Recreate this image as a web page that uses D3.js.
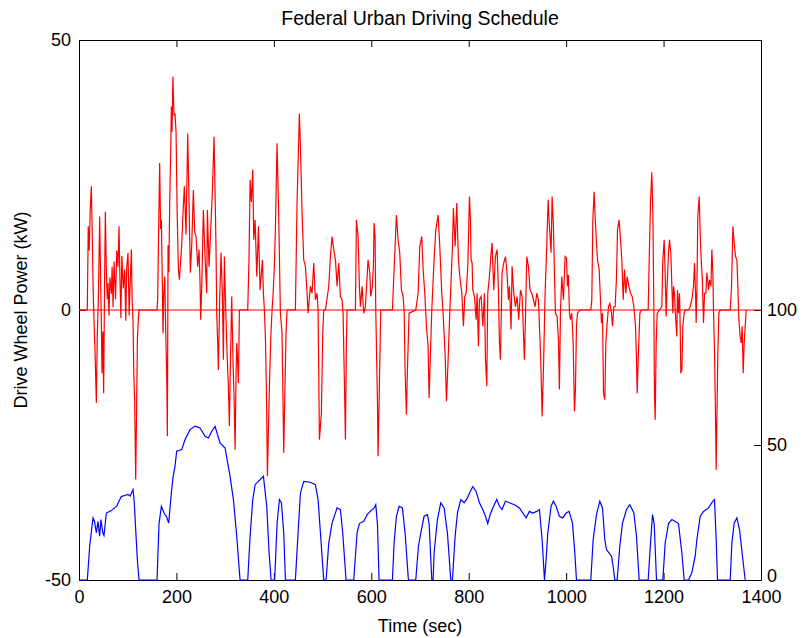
<!DOCTYPE html>
<html>
<head>
<meta charset="utf-8">
<script src="https://cdn.jsdelivr.net/npm/d3@7"></script>
<style>
body { margin: 0; background: #fff; }
text { font-family: "Liberation Sans", Arial, sans-serif; }
</style>
</head>
<body>
<svg id="chart" width="803" height="638"></svg>
<script>
// drive wheel power, [time (s), kW]
const powerData = [
  [0,0],[17,0],[19,15.5],[21,11],[23,18.5],[25.3,22.9],[27,15],[29,4],[30.8,-1.8],[33,-8],[35.6,-17.2],[37.5,-5],[40,3],
  [42.4,17.3],[44,8],[46,-3],[47.2,-11.7],[49,-4],[50.6,-15.4],[52.5,5],[54.1,18.2],[56,8],[58,2],[59.6,5],[61.5,-1],
  [63.5,6],[66.4,3],[68,8],[70,0.5],[72,9],[75,2],[77.5,11],[80,8],[82.1,15.5],[84,6],[86,-1.5],[88,10],[91,4],[93.8,7.5],
  [96,-2],[98,8],[100.6,10.6],[103,-1],[105,5],[107.5,11.2],[109,2],[110.9,-2],[112.5,-12],[114.3,-17],[116.4,-31.4],
  [118,-20],[120,-5],[123,0],
  [160,0],[161.5,2],[163.5,15],[165.6,27.2],[167.5,15],[169.1,16.7],[171,5],[172.5,-4.3],[174,3],[176,6.2],[178,-4],
  [179.4,-9.2],[180.5,-15],[181.4,-23.4],[182.8,12],[184.5,7],[186.2,20],[188,28],[189.6,37.7],[191,33],[192.8,43.2],
  [195,36],[197.1,36.4],[199.2,33],[201.5,18],[204,7.5],[206.1,5.6],[208.5,9],[210.8,12],[213.5,18],[216.3,22.9],
  [219.7,14],[223.2,32.7],[225.9,20],[228.6,6.9],[231.4,12],[234.8,22.2],[237.5,14.5],[240.3,13.6],[243.7,8],[246.4,11.2],
  [248.5,5],[249.8,-1.8],[251.9,4],[255.3,18.5],[258.7,10],[262.2,3.1],[263.5,18.5],[266.9,8],[270.4,15],[273.8,22],
  [277.2,32.1],[279.3,22],[281.3,11.2],[282.7,-0.6],[284.7,-6],[286.1,-11.1],[288.8,2],[291.6,10.6],[294.3,3],[296.4,-9.2],
  [298.4,9.9],[301.2,0],[303.9,-8],[306.6,-14],[308.7,-21.5],[310.8,-10],[313.5,2.5],[316.3,-10],[318.3,-16],[320.4,-25.9],
  [322.4,-12],[323.8,-6.1],[325.9,-10],[327.2,-13.5],[329.3,0],[346.4,0],[349.1,10],[351.2,24.1],[353.9,20],[356.7,26],
  [358.7,13],[361.5,16.7],[364.9,6.2],[368.4,15.5],[371.7,3.7],[373.8,6],[376.6,9.3],[378.6,3],[380.6,0],[382.7,-5.5],
  [384.8,-15],[386.8,-30.8],[388.9,-22],[390.9,-14.1],[393.7,-5],[396.3,0],[398.5,3],[401,8],[403.1,14.8],[406.6,30.9],
  [410,17.3],[413.4,-0.6],[416.8,-4.3],[420.3,-26.5],[422.3,-16.6],[425,-4.3],[427.1,0],[444.2,0],[447.6,19.8],[452.4,36.4],
  [454.5,30.3],[457.9,18],[461.3,9.3],[464.8,8.1],[468.2,3.1],[470.2,-0.6],[475,4.4],[478.4,3.1],[481.9,8.7],[485.3,1.9],
  [488.7,3.1],[490.8,0],[493.5,-24],[497.6,-19.1],[500.3,-4.3],[502.4,0],[505.8,0],[512.7,4.4],[516.1,9.9],[519.5,13.6],
  [522.9,11.2],[526.4,9.3],[529.8,4.4],[533.2,8.7],[536.6,2.5],[540,1.9],[542.1,-0.6],[545.5,-16.6],[546.9,-24],[548.9,-6.1],
  [550.3,0],[567.4,0],[569.5,16.7],[572.9,13.6],[575.6,4.4],[577.7,0.6],[581.1,4.4],[584.5,-0.6],[587.9,0.6],[593.4,9.3],
  [596.9,6.9],[598.9,2.5],[602.3,4.4],[604.4,8.1],[605.7,16.1],[607.8,13.6],[609.2,0],[612.6,-16.6],[613.9,-27.1],[616,-17.2],
  [619.4,0],[643.4,0],[646.8,7.5],[651.6,17.6],[655,13],[658.4,10.6],[661.9,3.7],[665.3,2.5],[667.4,0],[669.4,-11.1],
  [672.1,-19.4],[674.2,-11.1],[677.6,-0.6],[691.3,0],[696.1,3.1],[699.5,11.8],[703.6,13.6],[706.4,7.5],[709.8,3.1],[713.2,-3],
  [716.6,-6.7],[718.7,-16.3],[722.1,-6.1],[724.2,0],[728.9,9.3],[732.4,14.8],[737.2,17.6],[740.6,11.8],[744.7,3.1],[747.4,-0.6],
  [751.5,-8],[754.3,-16.9],[757.7,-9.2],[761.1,-0.6],[766.6,11.8],[768.6,18.9],[772.1,11.8],[775.5,19.8],[778.9,9.3],[781.7,6.2],
  [785.8,3.1],[789.2,-3],[791.9,2.5],[794.7,3.1],[798.1,8.1],[801.5,21],[803.6,16.7],[804.9,9.3],[807,8.7],[808.4,3.7],
  [811.8,2.5],[815.2,-1.8],[817.2,3.1],[820,-6.7],[822,1.9],[825.5,2.5],[828.9,-3],[832.3,3.1],[834.4,-9.2],[837.1,-14.1],
  [839.1,3.1],[842.5,6.2],[846,10.6],[848,12.4],[851.4,3.7],[854.8,9.9],[858.3,11.2],[861,3.7],[863.1,-6.1],[865.1,-9.2],
  [868.5,6.9],[871.9,8.7],[875.4,9.9],[878.1,7.5],[881.5,1.9],[883.6,4.4],[887,-3.6],[889,8.1],[892.5,3.1],[895.9,0.6],
  [899.3,2.5],[902.7,-1.8],[906.2,3.7],[909.6,2.5],[912.3,-4.3],[914.4,-9.2],[916.4,-1.8],[919.2,9.9],[922.6,8.1],[926,3.7],
  [929.4,3.1],[932.9,1.9],[936.3,0.6],[939.7,3.1],[943.1,1.9],[946.6,-6.1],[948.6,-11.7],[950.7,-19.7],[953.4,-11.1],[956.8,3.1],
  [960.2,11.8],[963,20.4],[965.7,15.5],[969.1,10.6],[971.2,21],[973.9,15.5],[976,6.9],[978,-0.6],[981.4,-1.2],[984.2,-5.5],
  [986.2,-14.7],[988.3,-0.6],[991,6.2],[994.5,1.9],[997.9,9.9],[1000.7,9.6],[1002.7,4.4],[1004.7,6.5],[1006.8,-0.6],[1008.9,-1.8],
  [1011.6,-0.6],[1014.4,-6.1],[1017.1,-18.8],[1019.1,-14.7],[1021.2,-3],[1023.3,-0.6],[1028.1,0],[1050.7,0],[1052.7,1.9],
  [1054.8,16.7],[1057.5,21.9],[1059.5,17.3],[1061.6,13.6],[1064.4,9.3],[1067.8,7.5],[1070.5,1.9],[1072.6,-2.4],[1074.6,-0.6],
  [1076.7,-15.4],[1079.4,-16.6],[1081.5,-6.1],[1084.2,-2.4],[1087,0.6],[1089.7,1.2],[1093.1,-0.6],[1095.2,-3],[1097.9,0.6],
  [1100.6,0.6],[1103.4,6.2],[1105.4,14.8],[1108.8,16.7],[1111.6,13],[1114.3,9.3],[1117.1,1.9],[1119.8,7.5],[1122.5,3.1],
  [1125.3,6.2],[1128.7,4.4],[1132.1,3.1],[1135.5,2.5],[1139,0.6],[1142.4,-3],[1144.4,-9.2],[1145.8,-15.4],[1148.6,-7.4],
  [1151.3,-0.6],[1154.7,0],[1168.4,0],[1170.5,9.3],[1173.2,20],[1175.9,25.5],[1178,18],[1180.1,0],[1181.4,-16],[1182.8,-20.3],
  [1184.8,-6.1],[1186.9,-0.6],[1196.4,0.6],[1198.5,9.3],[1201.2,13],[1203.3,6.9],[1205.3,-1.2],[1206.7,3.1],[1210.1,10.6],
  [1212.2,13],[1214.9,10.6],[1217,4.4],[1219,-0.6],[1220.4,4.4],[1222.4,3.1],[1223.8,0],[1225.9,-3],[1227.2,-4.9],[1228.6,3.7],
  [1230.6,-0.6],[1232.7,3.1],[1234.1,-3],[1235.4,-11.7],[1237.5,-11.1],[1239.6,-3],[1242.3,-0.6],[1244.4,0],[1251.2,0],
  [1254.6,0.6],[1258,1.9],[1261.5,4.4],[1263.5,8.7],[1265.6,3.1],[1266.9,-2.4],[1268.3,3.1],[1270.3,17.3],[1273.1,21],
  [1275.2,14.2],[1277.2,9.3],[1279.3,6.2],[1282,-2.4],[1284.1,3.1],[1286.8,3.1],[1288.8,6.9],[1292.3,3.7],[1294.3,5.6],
  [1297.1,4.4],[1299.1,11.2],[1301.2,6.9],[1302.5,0],[1304.6,-8],[1306.6,-19.7],[1308,-29.6],[1309.4,-20.3],[1311.4,-8],
  [1313.5,-0.6],[1316.2,0],[1336.8,0],[1339.5,4.4],[1342.3,15.5],[1345,12.4],[1347.7,9.9],[1350.5,9.3],[1352.5,4.4],
  [1354.6,-1.8],[1357.3,-4.9],[1359.4,-6.1],[1361.4,-3],[1363.5,-11.7],[1365.5,-6.1],[1367.6,-3],[1369.6,0]
];

// vehicle speed (right axis), [time (s), mph]
const speedData = [
  [0,0],[17.1,0],[21.9,12.5],[28.7,23],[32,21.7],[35.6,17.4],[39,21.7],[42.4,16.2],[45,22.4],[49,17.4],[51.3,16.5],
  [56.1,24.8],[66.4,25.7],[73.2,26.7],[78,27.5],[80.1,28.4],[86.9,30.9],[93.8,31.3],[100.6,31.7],[105,31.1],[110.9,33.5],
  [113.5,28.6],[115.7,20.9],[119.8,7.5],[123.2,0],[160.2,0],[164.3,20.9],[169.1,27.3],[174.6,24.8],[179.4,23.6],[184.1,21.1],
  [189.6,32.3],[193,38],[197,42],[200.5,47.7],[210.8,48.3],[217.7,52],[227.9,55.7],[238.2,57],[248.5,56.3],[258.8,53.2],
  [265.6,52.6],[272.5,55.1],[279.3,56.9],[289.5,50.8],[299.8,48.9],[310.1,38.4],[317,29.8],[323.8,16.2],[330.6,0],[346.4,0],
  [351.2,16.2],[356.7,29.8],[361.5,35.3],[371.7,37.2],[378.6,38.4],[385.4,27.3],[390.2,10.1],[394.3,0],[401.7,0],[406.6,20.9],
  [411.4,29.8],[415.5,28.6],[420.3,17.4],[423.7,0],[444.2,0],[449.7,17.4],[454.5,32.1],[461.3,36.5],[475,36.2],[485.3,35.3],
  [490.8,29.8],[495.6,17.4],[502.4,0],[507.2,0],[512.7,13.7],[519.5,21.1],[529.8,26.7],[536.6,26.1],[541.4,17.4],[548.2,0],
  [564,0],[570.8,17.4],[575.6,20.9],[584.5,21.7],[591.4,24.2],[598.2,25.5],[605.7,26.7],[609.2,27.9],[612.6,20.9],[616,0],
  [643.4,0],[646.8,13.7],[651.6,23.6],[657.1,27.3],[663.9,26.7],[669.4,17.4],[676.2,0],[691.3,0],[696.8,12.5],[701.6,17.4],
  [708.4,23.6],[715.3,24.2],[718.7,20.9],[724.2,0],[726.9,0],[728.9,10.1],[735.8,22.4],[742.6,28.6],[749.5,26.7],[756.3,17.4],
  [763.2,0],[766.6,0],[772.1,16.2],[776.9,24.8],[783.7,29.8],[790.6,28.6],[797.4,30.4],[801.5,32.1],[808.4,34.6],[815.2,32.8],
  [822,28.6],[828.9,26.1],[834.4,23.6],[839.1,20.9],[843.9,24.2],[849.4,26.7],[857.6,29.8],[863.1,27.3],[868.5,26.1],
  [875.4,29.2],[883.6,28.6],[893.9,27.9],[904.1,26.7],[911,24.8],[917.8,23],[924.7,25.4],[931.5,24.8],[939.7,25.4],[945.2,26.1],
  [950.7,14.9],[955.5,0],[958.9,7.5],[962.3,17.4],[969.1,27.3],[973.9,29.2],[979.4,27.3],[986.2,23.6],[993.1,23],[999.9,24.8],
  [1006.1,25.4],[1013,21.1],[1017.8,10.1],[1021.2,0],[1050.7,0],[1055.4,14.9],[1062.3,24.2],[1069.1,29.2],[1074.6,26.7],
  [1079.4,14.9],[1082.8,11.3],[1093.1,8.8],[1096.5,5.1],[1099.9,0],[1104.7,0],[1110.2,12.5],[1115.7,21.1],[1123.9,26.1],
  [1130.7,27.9],[1139,24.8],[1144.4,16.2],[1149.9,0],[1168.4,0],[1173.2,13.7],[1177.3,24.2],[1180.7,20.9],[1185.5,0],
  [1198.5,0],[1203.3,13.7],[1210.1,20.9],[1217,22.4],[1223.8,21.7],[1230.6,20.9],[1237.5,10.1],[1242.3,0],[1251.2,0],
  [1258,2.7],[1264.9,8.8],[1268.3,14.9],[1275.2,23.6],[1282,25.4],[1292.3,26.7],[1301.2,29.2],[1304.6,29.8],[1308,14.9],
  [1310.7,0],[1336.8,0],[1340.2,13.7],[1345,21.1],[1350.5,23],[1356,18.6],[1362.8,7.5],[1367.6,0],[1369,0]
];

const zeroLine = [[0, 0], [1400, 0]];
const xTicks = [0, 200, 400, 600, 800, 1000, 1200, 1400];
const leftTicks = [-50, 0, 50];
const rightTicks = [0, 50, 100];

const svg = d3.select('#chart');
const plotLeft = 79, plotRight = 761, plotTop = 40, plotBottom = 580;

const x = d3.scaleLinear().domain([0, 1400]).range([plotLeft, plotRight]);
const yL = d3.scaleLinear().domain([-50, 50]).range([plotBottom, plotTop]);
const yR = d3.scaleLinear().domain([0, 200]).range([plotBottom, plotTop]);

const tickLen = -7;
const fmt = d => String(d);

// axes first, lines go on top of them (like matlab)
function styleAxis(g) {
  g.attr('font-family', '"Liberation Sans", Arial, sans-serif')
   .attr('font-size', 18);
  g.selectAll('path, line').attr('stroke', '#000');
  g.selectAll('text').attr('fill', '#000');
}

svg.append('g')
  .attr('transform', `translate(0,${plotBottom})`)
  .call(d3.axisBottom(x).tickValues(xTicks).tickFormat(fmt)
    .tickSizeInner(tickLen).tickSizeOuter(0).tickPadding(10))
  .call(styleAxis);

svg.append('g')
  .attr('transform', `translate(0,${plotTop})`)
  .call(d3.axisTop(x).tickValues(xTicks).tickFormat(() => '')
    .tickSizeInner(tickLen).tickSizeOuter(0))
  .call(styleAxis);

svg.append('g')
  .attr('transform', `translate(${plotLeft},0)`)
  .call(d3.axisLeft(yL).tickValues(leftTicks).tickFormat(fmt)
    .tickSizeInner(tickLen).tickSizeOuter(0).tickPadding(8))
  .call(styleAxis);

const rightAxis = svg.append('g')
  .attr('transform', `translate(${plotRight},0)`)
  .call(d3.axisRight(yR).tickValues(rightTicks).tickFormat(fmt)
    .tickSizeInner(tickLen).tickSizeOuter(0).tickPadding(6))
  .call(styleAxis);
// bottom "0" sits a little higher so it clears "1400"
rightAxis.selectAll('.tick text').attr('dy', d => d === 0 ? '0.1em' : '0.32em');

// the lines
const powerLine = d3.line().x(d => x(d[0])).y(d => yL(d[1]));
const speedLine = d3.line().x(d => x(d[0])).y(d => yR(d[1]));

svg.append('path')
  .datum(zeroLine)
  .attr('d', powerLine)
  .attr('fill', 'none')
  .attr('stroke', '#ff0000')
  .attr('stroke-width', 1.1);

svg.append('path')
  .datum(powerData)
  .attr('d', powerLine)
  .attr('fill', 'none')
  .attr('stroke', '#ff0000')
  .attr('stroke-width', 1.2);

svg.append('path')
  .datum(speedData)
  .attr('d', speedLine)
  .attr('fill', 'none')
  .attr('stroke', '#0000ff')
  .attr('stroke-width', 1.2);

// titles
svg.append('text')
  .attr('x', (plotLeft + plotRight) / 2)
  .attr('y', 25)
  .attr('text-anchor', 'middle')
  .attr('font-size', 19.5)
  .text('Federal Urban Driving Schedule');

svg.append('text')
  .attr('x', (plotLeft + plotRight) / 2)
  .attr('y', 632)
  .attr('text-anchor', 'middle')
  .attr('font-size', 18)
  .text('Time (sec)');

svg.append('text')
  .attr('transform', `translate(27,${(plotTop + plotBottom) / 2}) rotate(-90)`)
  .attr('text-anchor', 'middle')
  .attr('font-size', 18)
  .text('Drive Wheel Power (kW)');
</script>
</body>
</html>
